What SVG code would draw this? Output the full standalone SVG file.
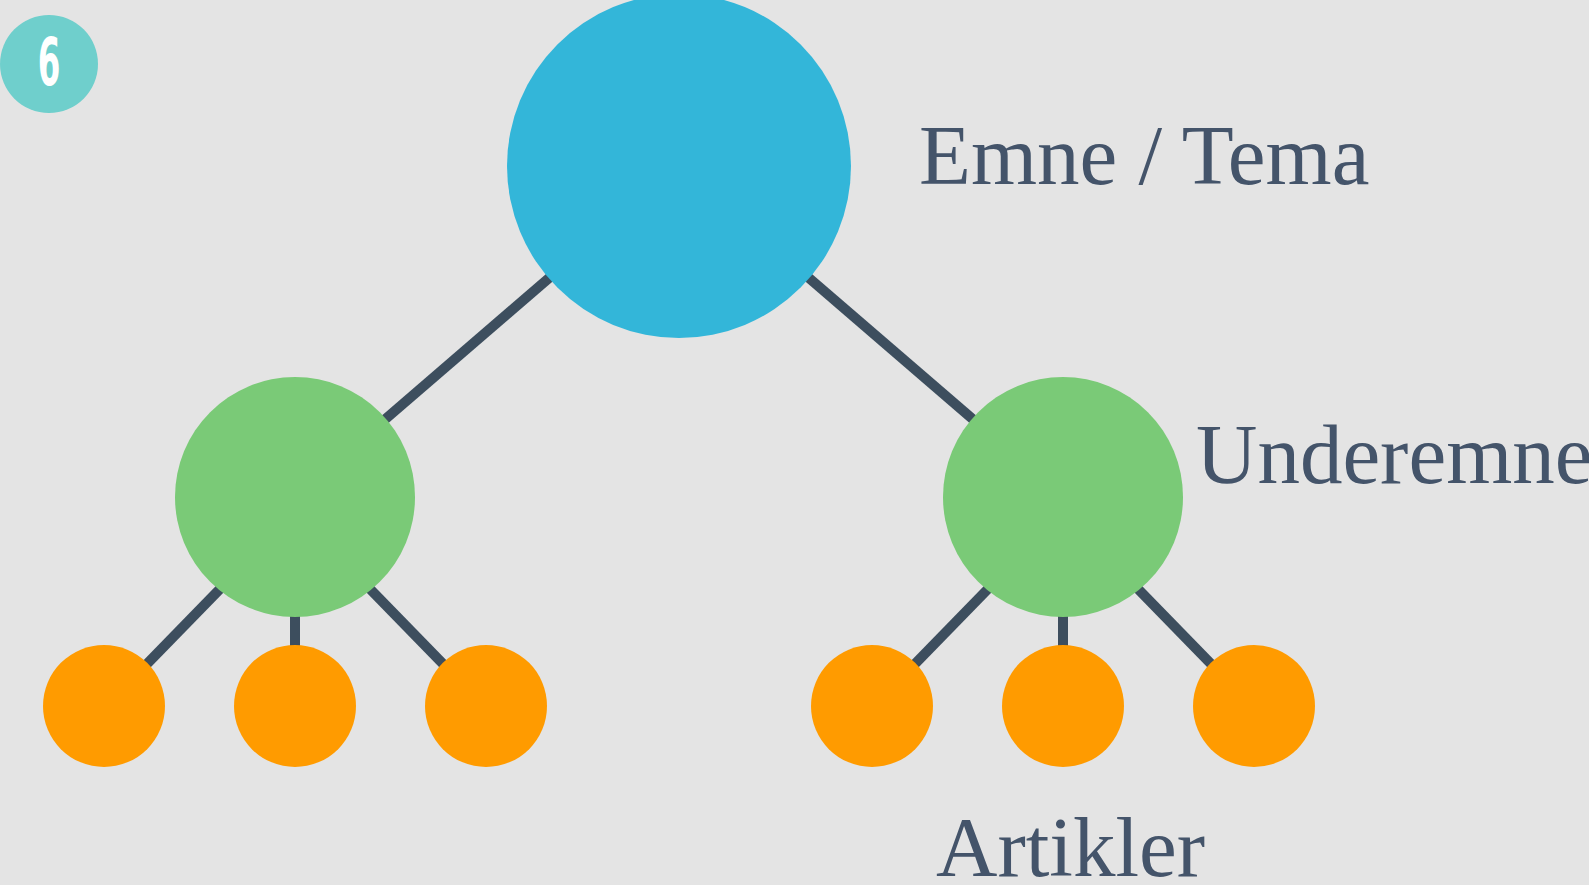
<svg xmlns="http://www.w3.org/2000/svg" width="1589" height="885" viewBox="0 0 1589 885">
<style>
.edge{stroke:#3d4e5e;stroke-width:10;fill:none}
.lbl{font-family:"Liberation Serif","Times New Roman",serif;font-size:85px;fill:#44546a}
.root{fill:#33b6d9}
.sub{fill:#7aca77}
.leaf{fill:#ff9b00}
</style>
<rect width="1589" height="885" fill="#e4e4e4"/>
<g id="badge">
<circle cx="49" cy="64" r="49" fill="#6fcfcc"/>
<text transform="translate(49,85) scale(0.5,1)" text-anchor="middle" font-family="DejaVu Sans, sans-serif" font-weight="bold" font-size="65" fill="#ffffff">6</text>
</g>
<g id="connectors">
<line class="edge" x1="679" y1="166" x2="295" y2="497"/>
<line class="edge" x1="679" y1="166" x2="1063" y2="497"/>
<line class="edge" x1="295" y1="512" x2="104" y2="708"/>
<line class="edge" x1="295" y1="497" x2="295" y2="706"/>
<line class="edge" x1="295" y1="512" x2="486" y2="708"/>
<line class="edge" x1="1063" y1="512" x2="872" y2="708"/>
<line class="edge" x1="1063" y1="497" x2="1063" y2="706"/>
<line class="edge" x1="1063" y1="512" x2="1254" y2="708"/>
</g>
<g id="root"><circle class="root" cx="679" cy="166" r="172"/></g>
<g id="sub-left"><circle class="sub" cx="295" cy="497" r="120"/></g>
<g id="sub-right"><circle class="sub" cx="1063" cy="497" r="120"/></g>
<g id="leaf-1"><circle class="leaf" cx="104" cy="706" r="61"/></g>
<g id="leaf-2"><circle class="leaf" cx="295" cy="706" r="61"/></g>
<g id="leaf-3"><circle class="leaf" cx="486" cy="706" r="61"/></g>
<g id="leaf-4"><circle class="leaf" cx="872" cy="706" r="61"/></g>
<g id="leaf-5"><circle class="leaf" cx="1063" cy="706" r="61"/></g>
<g id="leaf-6"><circle class="leaf" cx="1254" cy="706" r="61"/></g>
<g id="labels">
<text class="lbl" x="919" y="184">Emne / Tema</text>
<text class="lbl" x="1196" y="483">Underemne</text>
<text class="lbl" x="936" y="876">Artikler</text>
</g>
</svg>
